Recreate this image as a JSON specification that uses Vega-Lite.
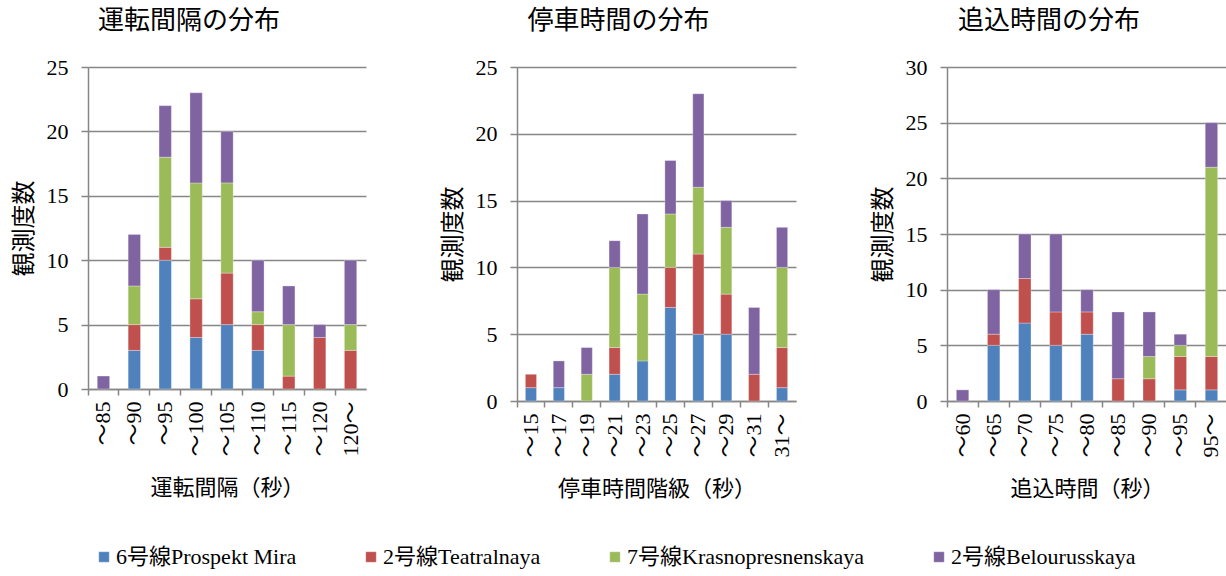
{
  "$schema": "https://vega.github.io/schema/vega-lite/v6.json",
  "padding": {"left": 12, "top": 8, "right": 4, "bottom": 2},
  "background": "white",
  "datasets": {
    "d1": [
      {"c": "～85", "s": "2号線Belourusskaya", "k": 4, "v": 1},
      {"c": "～90", "s": "6号線Prospekt Mira", "k": 1, "v": 3},
      {"c": "～90", "s": "2号線Teatralnaya", "k": 2, "v": 2},
      {"c": "～90", "s": "7号線Krasnopresnenskaya", "k": 3, "v": 3},
      {"c": "～90", "s": "2号線Belourusskaya", "k": 4, "v": 4},
      {"c": "～95", "s": "6号線Prospekt Mira", "k": 1, "v": 10},
      {"c": "～95", "s": "2号線Teatralnaya", "k": 2, "v": 1},
      {"c": "～95", "s": "7号線Krasnopresnenskaya", "k": 3, "v": 7},
      {"c": "～95", "s": "2号線Belourusskaya", "k": 4, "v": 4},
      {"c": "～100", "s": "6号線Prospekt Mira", "k": 1, "v": 4},
      {"c": "～100", "s": "2号線Teatralnaya", "k": 2, "v": 3},
      {"c": "～100", "s": "7号線Krasnopresnenskaya", "k": 3, "v": 9},
      {"c": "～100", "s": "2号線Belourusskaya", "k": 4, "v": 7},
      {"c": "～105", "s": "6号線Prospekt Mira", "k": 1, "v": 5},
      {"c": "～105", "s": "2号線Teatralnaya", "k": 2, "v": 4},
      {"c": "～105", "s": "7号線Krasnopresnenskaya", "k": 3, "v": 7},
      {"c": "～105", "s": "2号線Belourusskaya", "k": 4, "v": 4},
      {"c": "～110", "s": "6号線Prospekt Mira", "k": 1, "v": 3},
      {"c": "～110", "s": "2号線Teatralnaya", "k": 2, "v": 2},
      {"c": "～110", "s": "7号線Krasnopresnenskaya", "k": 3, "v": 1},
      {"c": "～110", "s": "2号線Belourusskaya", "k": 4, "v": 4},
      {"c": "～115", "s": "2号線Teatralnaya", "k": 2, "v": 1},
      {"c": "～115", "s": "7号線Krasnopresnenskaya", "k": 3, "v": 4},
      {"c": "～115", "s": "2号線Belourusskaya", "k": 4, "v": 3},
      {"c": "～120", "s": "2号線Teatralnaya", "k": 2, "v": 4},
      {"c": "～120", "s": "2号線Belourusskaya", "k": 4, "v": 1},
      {"c": "120～", "s": "2号線Teatralnaya", "k": 2, "v": 3},
      {"c": "120～", "s": "7号線Krasnopresnenskaya", "k": 3, "v": 2},
      {"c": "120～", "s": "2号線Belourusskaya", "k": 4, "v": 5}
    ],
    "d2": [
      {"c": "～15", "s": "6号線Prospekt Mira", "k": 1, "v": 1},
      {"c": "～15", "s": "2号線Teatralnaya", "k": 2, "v": 1},
      {"c": "～17", "s": "6号線Prospekt Mira", "k": 1, "v": 1},
      {"c": "～17", "s": "2号線Belourusskaya", "k": 4, "v": 2},
      {"c": "～19", "s": "7号線Krasnopresnenskaya", "k": 3, "v": 2},
      {"c": "～19", "s": "2号線Belourusskaya", "k": 4, "v": 2},
      {"c": "～21", "s": "6号線Prospekt Mira", "k": 1, "v": 2},
      {"c": "～21", "s": "2号線Teatralnaya", "k": 2, "v": 2},
      {"c": "～21", "s": "7号線Krasnopresnenskaya", "k": 3, "v": 6},
      {"c": "～21", "s": "2号線Belourusskaya", "k": 4, "v": 2},
      {"c": "～23", "s": "6号線Prospekt Mira", "k": 1, "v": 3},
      {"c": "～23", "s": "7号線Krasnopresnenskaya", "k": 3, "v": 5},
      {"c": "～23", "s": "2号線Belourusskaya", "k": 4, "v": 6},
      {"c": "～25", "s": "6号線Prospekt Mira", "k": 1, "v": 7},
      {"c": "～25", "s": "2号線Teatralnaya", "k": 2, "v": 3},
      {"c": "～25", "s": "7号線Krasnopresnenskaya", "k": 3, "v": 4},
      {"c": "～25", "s": "2号線Belourusskaya", "k": 4, "v": 4},
      {"c": "～27", "s": "6号線Prospekt Mira", "k": 1, "v": 5},
      {"c": "～27", "s": "2号線Teatralnaya", "k": 2, "v": 6},
      {"c": "～27", "s": "7号線Krasnopresnenskaya", "k": 3, "v": 5},
      {"c": "～27", "s": "2号線Belourusskaya", "k": 4, "v": 7},
      {"c": "～29", "s": "6号線Prospekt Mira", "k": 1, "v": 5},
      {"c": "～29", "s": "2号線Teatralnaya", "k": 2, "v": 3},
      {"c": "～29", "s": "7号線Krasnopresnenskaya", "k": 3, "v": 5},
      {"c": "～29", "s": "2号線Belourusskaya", "k": 4, "v": 2},
      {"c": "～31", "s": "2号線Teatralnaya", "k": 2, "v": 2},
      {"c": "～31", "s": "2号線Belourusskaya", "k": 4, "v": 5},
      {"c": "31～", "s": "6号線Prospekt Mira", "k": 1, "v": 1},
      {"c": "31～", "s": "2号線Teatralnaya", "k": 2, "v": 3},
      {"c": "31～", "s": "7号線Krasnopresnenskaya", "k": 3, "v": 6},
      {"c": "31～", "s": "2号線Belourusskaya", "k": 4, "v": 3}
    ],
    "d3": [
      {"c": "～60", "s": "2号線Belourusskaya", "k": 4, "v": 1},
      {"c": "～65", "s": "6号線Prospekt Mira", "k": 1, "v": 5},
      {"c": "～65", "s": "2号線Teatralnaya", "k": 2, "v": 1},
      {"c": "～65", "s": "2号線Belourusskaya", "k": 4, "v": 4},
      {"c": "～70", "s": "6号線Prospekt Mira", "k": 1, "v": 7},
      {"c": "～70", "s": "2号線Teatralnaya", "k": 2, "v": 4},
      {"c": "～70", "s": "2号線Belourusskaya", "k": 4, "v": 4},
      {"c": "～75", "s": "6号線Prospekt Mira", "k": 1, "v": 5},
      {"c": "～75", "s": "2号線Teatralnaya", "k": 2, "v": 3},
      {"c": "～75", "s": "2号線Belourusskaya", "k": 4, "v": 7},
      {"c": "～80", "s": "6号線Prospekt Mira", "k": 1, "v": 6},
      {"c": "～80", "s": "2号線Teatralnaya", "k": 2, "v": 2},
      {"c": "～80", "s": "2号線Belourusskaya", "k": 4, "v": 2},
      {"c": "～85", "s": "2号線Teatralnaya", "k": 2, "v": 2},
      {"c": "～85", "s": "2号線Belourusskaya", "k": 4, "v": 6},
      {"c": "～90", "s": "2号線Teatralnaya", "k": 2, "v": 2},
      {"c": "～90", "s": "7号線Krasnopresnenskaya", "k": 3, "v": 2},
      {"c": "～90", "s": "2号線Belourusskaya", "k": 4, "v": 4},
      {"c": "～95", "s": "6号線Prospekt Mira", "k": 1, "v": 1},
      {"c": "～95", "s": "2号線Teatralnaya", "k": 2, "v": 3},
      {"c": "～95", "s": "7号線Krasnopresnenskaya", "k": 3, "v": 1},
      {"c": "～95", "s": "2号線Belourusskaya", "k": 4, "v": 1},
      {"c": "95～", "s": "6号線Prospekt Mira", "k": 1, "v": 1},
      {"c": "95～", "s": "2号線Teatralnaya", "k": 2, "v": 3},
      {"c": "95～", "s": "7号線Krasnopresnenskaya", "k": 3, "v": 17},
      {"c": "95～", "s": "2号線Belourusskaya", "k": 4, "v": 4}
    ]
  },
  "spacing": 75,
  "hconcat": [
    {
      "width": 278, "height": 322,
      "title": {"text": "運転間隔の分布"},
      "data": {"name": "d1"},
      "mark": {"type": "bar", "width": {"band": 0.4}},
      "encoding": {
        "x": {"field": "c", "type": "nominal", "sort": ["～85","～90","～95","～100","～105","～110","～115","～120","120～"], "title": "運転間隔（秒）", "scale": {"paddingInner": 0, "paddingOuter": 0}},
        "y": {"field": "v", "type": "quantitative", "aggregate": "sum", "stack": "zero", "title": "観測度数", "scale": {"domain": [0, 25]}, "axis": {"values": [0,5,10,15,20,25]}},
        "color": {"field": "s", "type": "nominal", "title": null, "scale": {"domain": ["6号線Prospekt Mira", "2号線Teatralnaya", "7号線Krasnopresnenskaya", "2号線Belourusskaya"], "range": ["#4F81BD", "#C0504D", "#9BBB59", "#8064A2"]}},
        "order": {"field": "k", "type": "quantitative"}
      }
    },
    {
      "width": 279, "height": 334,
      "title": {"text": "停車時間の分布"},
      "data": {"name": "d2"},
      "mark": {"type": "bar", "width": {"band": 0.4}},
      "encoding": {
        "x": {"field": "c", "type": "nominal", "sort": ["～15","～17","～19","～21","～23","～25","～27","～29","～31","31～"], "title": "停車時間階級（秒）", "scale": {"paddingInner": 0, "paddingOuter": 0}},
        "y": {"field": "v", "type": "quantitative", "aggregate": "sum", "stack": "zero", "title": "観測度数", "scale": {"domain": [0, 25]}, "axis": {"values": [0,5,10,15,20,25]}},
        "color": {"field": "s", "type": "nominal", "title": null},
        "order": {"field": "k", "type": "quantitative"}
      }
    },
    {
      "width": 280, "height": 334,
      "title": {"text": "追込時間の分布"},
      "data": {"name": "d3"},
      "mark": {"type": "bar", "width": {"band": 0.4}},
      "encoding": {
        "x": {"field": "c", "type": "nominal", "sort": ["～60","～65","～70","～75","～80","～85","～90","～95","95～"], "title": "追込時間（秒）", "scale": {"paddingInner": 0, "paddingOuter": 0}},
        "y": {"field": "v", "type": "quantitative", "aggregate": "sum", "stack": "zero", "title": "観測度数", "scale": {"domain": [0, 30]}, "axis": {"values": [0,5,10,15,20,25,30]}},
        "color": {"field": "s", "type": "nominal", "title": null},
        "order": {"field": "k", "type": "quantitative"}
      }
    }
  ],
  "resolve": {"scale": {"color": "shared"}},
  "config": {
    "font": "'Liberation Serif', 'Times New Roman', 'Noto Sans CJK JP', serif",
    "view": {"stroke": null},
    "title": {"fontSize": 26, "fontWeight": "normal", "frame": "bounds", "anchor": "middle", "offset": 22, "color": "#000000", "font": "'Liberation Serif', 'Times New Roman', 'Noto Sans CJK JP', serif"},
    "axis": {
      "labelFont": "'Liberation Serif', 'Times New Roman', 'Noto Sans CJK JP', serif",
      "titleFont": "'Liberation Serif', 'Times New Roman', 'Noto Sans CJK JP', serif",
      "labelFontSize": 22, "titleFontSize": 22, "titleFontWeight": "normal",
      "labelColor": "#000000", "titleColor": "#000000",
      "domainColor": "#868686", "tickColor": "#868686", "gridColor": "#868686",
      "domainWidth": 1.5, "tickWidth": 1.5, "gridWidth": 1.5
    },
    "axisX": {"labelAngle": -90, "ticks": true, "tickSize": 6, "bandPosition": 0, "labelPadding": 6, "titlePadding": 21, "grid": false, "labelBaseline": "middle"},
    "axisY": {"ticks": true, "tickSize": 7, "labelPadding": 13, "titlePadding": 10, "titleFontSize": 24, "grid": true},
    "legend": {
      "orient": "bottom", "direction": "horizontal", "symbolType": "square", "symbolSize": 110,
      "labelFontSize": 22, "labelFont": "'Liberation Serif', 'Times New Roman', 'Noto Sans CJK JP', serif", "labelColor": "#000000",
      "columnPadding": 63, "labelOffset": 1, "offset": 41, "padding": 5, "labelLimit": 400
    },
    "bar": {"stroke": "#ffffff", "strokeWidth": 0.3}
  }
}
